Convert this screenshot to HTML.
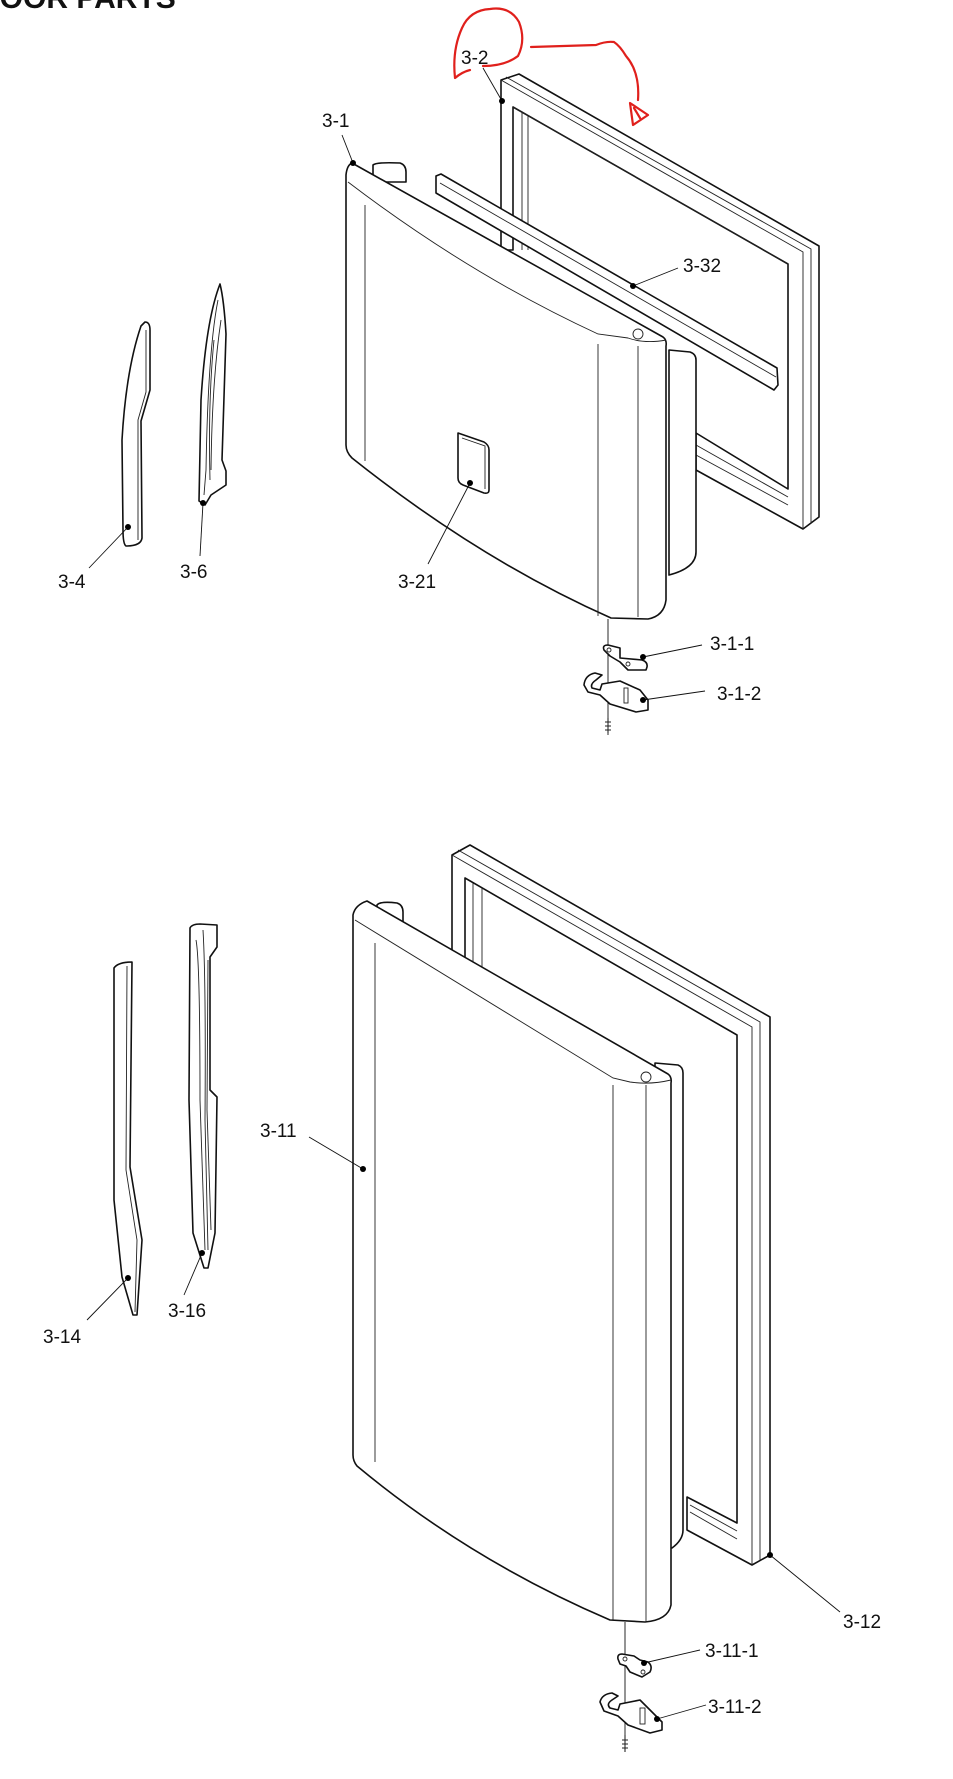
<!DOCTYPE html>
<html><head><meta charset="utf-8"><style>
html,body{margin:0;padding:0;background:#fff;}
svg{display:block;}
text{font-family:"Liberation Sans",Arial,sans-serif;font-size:19px;fill:#111;}
.o{fill:#fff;stroke:#111;stroke-width:1.6;stroke-linejoin:round;}
.t{fill:none;stroke:#222;stroke-width:0.9;}
.l{stroke:#111;stroke-width:0.9;fill:none;}
.r{fill:none;stroke:#e0201c;stroke-width:2.2;stroke-linejoin:round;stroke-linecap:round;}
</style></head><body>
<svg width="953" height="1779" viewBox="0 0 953 1779" xmlns="http://www.w3.org/2000/svg">
<text x="-22" y="8" style="font-size:30px;font-weight:bold;">DOOR PARTS</text>

<polygon class="o" points="501,80 519,74 819,246 819,517 803,529 696,470 696,433 788,489 788,264 513,107 513,250 501,250"/>
<polyline class="t" points="501,80 803,252 803,529"/>
<polyline class="t" points="506,77 811,249 811,523"/>
<polyline class="t" points="522,112 522,250"/>
<polyline class="t" points="528,116 528,250"/>
<polyline class="t" points="513,107 788,264"/>
<polyline class="t" points="696,445 788,497"/>
<polyline class="t" points="696,455 788,505"/>
<polygon class="o" points="436,176 441,174 777,368 778,385 774,390 436,193"/>
<polyline class="t" points="440,183 776,377"/>
<path class="o" d="M669,350 L690,352 Q696,354 696,360 L696,552 Q696,568 669,575 Z"/>
<path class="o" d="M373,172 L373,165 Q376,162 400,163 Q406,165 406,172 L406,182 L373,182 Z"/>
<path class="o" d="M352,163 L663,337 Q667,340 666,346 L666,600 Q664,616 648,619 L611,618 Q480,560 352,458 Q346,452 346,445 L346,175 Q347,165 352,163 Z"/>
<path class="t" d="M348,182 Q470,275 598,334 L628,338 Q645,344 666,340"/>
<line class="t" x1="365" y1="205" x2="365" y2="461"/>
<line class="t" x1="598" y1="344" x2="598" y2="616"/>
<line class="t" x1="638" y1="346" x2="638" y2="617"/>
<circle class="t" cx="638" cy="334" r="5"/>
<path class="o" d="M458,433 L484,442 Q489,445 489,450 L489,490 Q489,494 484,493 L463,485 Q458,483 458,478 Z"/>
<path class="t" d="M462,438 L485,446 L485,489"/>
<path class="o" d="M145,322 Q150,322 150,330 L150,390 L141,421 L142,538 Q141,546 126,546 Q123,544 123,530 L122,440 Q126,370 141,326 Z"/>
<path class="t" d="M146,330 L146,392 L138,420 L138,540"/>
<path class="o" d="M220,284 Q224,300 226,334 L222,460 L226,471 L226,485 L211,495 L205,505 L199,501 L201,400 Q206,320 220,284 Z"/>
<path class="t" d="M218,300 Q208,350 206,470 L204,495"/>
<path class="t" d="M221,320 Q212,380 211,470"/>
<path class="t" d="M214,340 Q208,400 210,480"/>
<line class="l" x1="608" y1="619" x2="608" y2="735"/>
<path class="o" d="M604,650 Q602,645 608,645 L620,648 L620,658 L642,660 Q648,662 647,667 L646,670 L628,670 L620,662 L610,656 Z"/>
<circle class="t" cx="609" cy="650" r="2"/><circle class="t" cx="628" cy="664" r="2"/>
<path class="o" d="M584,685 Q585,675 595,673 L602,675 L596,680 Q590,684 592,688 L600,690 L602,684 L620,681 L640,690 L648,700 L648,710 L636,712 L610,704 L600,695 L588,692 Z"/>
<rect class="t" x="624" y="688" width="4" height="15"/>
<line class="l" x1="608" y1="718" x2="608" y2="733"/>
<path class="t" d="M605,722 L611,722 M605,726 L611,726 M605,730 L611,730"/>

<line class="l" x1="483" y1="68" x2="502" y2="101"/><circle cx="502" cy="101" r="3"/>
<text x="461" y="64">3-2</text>
<line class="l" x1="342" y1="135" x2="353" y2="163"/><circle cx="353" cy="163" r="3"/>
<text x="322" y="127">3-1</text>
<line class="l" x1="678" y1="268" x2="633" y2="286"/><circle cx="633" cy="286" r="3"/>
<text x="683" y="272">3-32</text>
<line class="l" x1="428" y1="564" x2="470" y2="483"/><circle cx="470" cy="483" r="3"/>
<text x="398" y="588">3-21</text>
<line class="l" x1="89" y1="568" x2="128" y2="527"/><circle cx="128" cy="527" r="3"/>
<text x="58" y="588">3-4</text>
<line class="l" x1="200" y1="556" x2="203" y2="503"/><circle cx="203" cy="503" r="3"/>
<text x="180" y="578">3-6</text>
<line class="l" x1="702" y1="645" x2="643" y2="657"/><circle cx="643" cy="657" r="3"/>
<text x="710" y="650">3-1-1</text>
<line class="l" x1="705" y1="691" x2="643" y2="700"/><circle cx="643" cy="700" r="3"/>
<text x="717" y="700">3-1-2</text>

<path class="r" d="M483,66 Q505,66 518,56 Q526,40 519,22 Q510,6 490,9 Q470,10 462,28 Q452,50 455,78 Q462,72 470,70"/>
<path class="r" d="M531,47 L596,45 Q606,41 614,42 Q620,46 626,56 Q640,72 638,100"/>
<path class="r" d="M630,103 L633,125 L648,115 Z M634,108 L640,118"/>

<polygon class="o" points="452,855 470,845 770,1017 770,1555 752,1565 687,1530 687,1497 737,1523 737,1035 465,878 465,1077 452,1077"/>
<polyline class="t" points="452,855 752,1027 752,1565"/>
<polyline class="t" points="458,850 760,1022 760,1560"/>
<line class="t" x1="473" y1="883" x2="473" y2="1077"/>
<line class="t" x1="482" y1="888" x2="482" y2="1077"/>
<polyline class="t" points="690,1505 737,1531"/>
<polyline class="t" points="690,1512 737,1539"/>
<path class="o" d="M655,1063 L678,1065 Q683,1067 683,1073 L683,1530 Q683,1540 672,1548 L655,1548 Z"/>
<path class="o" d="M377,912 L377,905 Q380,901 397,903 Q403,905 403,912 L403,925 L377,925 Z"/>
<path class="o" d="M367,901 L668,1074 Q672,1077 671,1083 L671,1605 Q668,1620 645,1622 L610,1620 Q470,1560 357,1466 Q353,1461 353,1455 L353,915 Q355,905 367,901 Z"/>
<path class="t" d="M355,920 Q470,990 613,1078 L630,1082 Q650,1085 671,1080"/>
<line class="t" x1="375" y1="943" x2="375" y2="1462"/>
<line class="t" x1="613" y1="1085" x2="613" y2="1620"/>
<line class="t" x1="646" y1="1085" x2="646" y2="1622"/>
<circle class="t" cx="646" cy="1077" r="5"/>
<path class="o" d="M114,968 Q118,962 132,962 L130,1167 L142,1240 L137,1315 L133,1315 L122,1277 L114,1200 Z"/>
<path class="t" d="M127,966 L126,1170 L137,1240 L135,1312"/>
<path class="o" d="M190,928 Q192,924 200,924 L217,925 L217,947 L210,957 L210,1090 L217,1097 L215,1233 L208,1268 L204,1268 L193,1233 L189,1100 Z"/>
<path class="t" d="M196,940 Q200,960 200,1100 L205,1250"/>
<path class="t" d="M203,930 Q206,980 205,1120 L208,1250"/>
<path class="t" d="M208,960 L207,1110 L211,1230"/>
<line class="l" x1="625" y1="1622" x2="625" y2="1752"/>
<path class="o" d="M618,1659 Q617,1654 622,1654 L634,1656 L640,1660 L648,1662 Q653,1666 650,1672 L642,1677 L630,1672 L626,1666 L620,1664 Z"/>
<circle class="t" cx="625" cy="1659" r="2"/><circle class="t" cx="643" cy="1672" r="2"/>
<path class="o" d="M600,1702 Q602,1694 612,1693 L618,1696 L612,1700 Q606,1704 610,1708 L618,1710 L620,1704 L640,1700 L652,1712 L662,1722 L662,1730 L650,1733 L628,1725 L618,1716 L604,1711 Z"/>
<rect class="t" x="640" y="1708" width="5" height="16"/>
<line class="l" x1="625" y1="1735" x2="625" y2="1752"/>
<path class="t" d="M622,1740 L628,1740 M622,1744 L628,1744 M622,1748 L628,1748"/>

<line class="l" x1="309" y1="1137" x2="363" y2="1169"/><circle cx="363" cy="1169" r="3"/>
<text x="260" y="1137">3-11</text>
<line class="l" x1="87" y1="1320" x2="128" y2="1278"/><circle cx="128" cy="1278" r="3"/>
<text x="43" y="1343">3-14</text>
<line class="l" x1="184" y1="1295" x2="202" y2="1253"/><circle cx="202" cy="1253" r="3"/>
<text x="168" y="1317">3-16</text>
<line class="l" x1="770" y1="1555" x2="840" y2="1612"/><circle cx="770" cy="1555" r="3"/>
<text x="843" y="1628">3-12</text>
<line class="l" x1="700" y1="1650" x2="644" y2="1663"/><circle cx="644" cy="1663" r="3"/>
<text x="705" y="1657">3-11-1</text>
<line class="l" x1="706" y1="1705" x2="657" y2="1719"/><circle cx="657" cy="1719" r="3"/>
<text x="708" y="1713">3-11-2</text>
</svg>
</body></html>
